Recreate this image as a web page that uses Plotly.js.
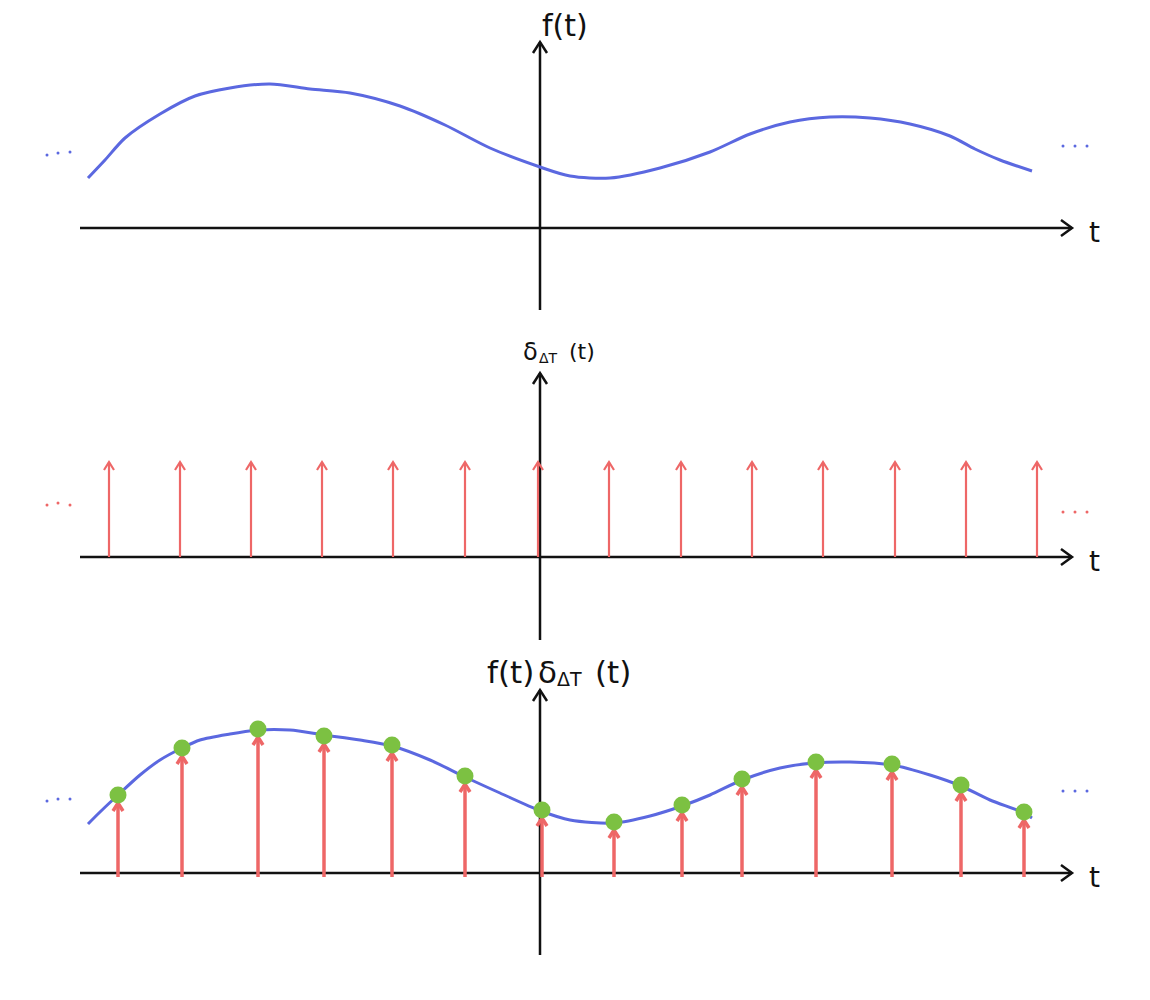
<!DOCTYPE html>
<html><head><meta charset="utf-8">
<script src="https://cdn.plot.ly/plotly-3.0.1.min.js"></script>
<style>body{margin:0;background:#fff}#chart{width:1150px;height:1000px}</style>
</head><body><div id="chart"></div>
<script>
// ---- data (t in sketch units, heights above each panel's t-axis) ----
const fT = [-452,-435,-415,-380,-345,-310,-270,-230,-190,-140,-95,-50,0,30,70,120,170,210,250,290,330,370,410,435,460,492];
const fV = [50,68,90,114,132,140,144,139,135,122,103,80,61,52,50,60,76,94,106,111,110,104,92,79,68,57];

const combT = [-431,-360,-289,-218,-147,-75,-2,69,141,212,283,355,426,497];
const combV = [95,95,95,95,95,95,95,95,95,95,95,95,95,95];

const prodCurveT = [-452,-440,-422,-400,-380,-358,-340,-310,-282,-250,-216,-180,-148,-110,-75,-40,1,30,74,110,142,170,202,240,274,310,352,390,421,450,482,492];
const prodCurveV = [49,61,78,98,113,125,133,139,143,143,138,133,127,113,96,80,62,53,50,57,67,78,93,105,110,111,108,98,87,73,61,55];

const sampleT = [-422,-358,-282,-216,-148,-75,2,74,142,202,276,352,421,484];
const sampleV = [78,125,144,137,128,97,63,51,68,94,111,109,88,61];

const fLabel = "f(t)";
const deltaSym = "δ", deltaSub = "ΔT", argLabel = "(t)";
const axisLabel = "t";

const dotsLeftT = [-493,-482,-470], dotsRightT = [523,535,547];
const dots1L = [73,75,76], dots1R = [82,82,82];
const dots2L = [52,54,52], dots2R = [45,45,45];
const dots3L = [72,74,74], dots3R = [82,82,82];

// axis extents per panel: [tMin, tMax, yMin, yMax]
const axesExt = [[-460,532,-82,186],[-460,532,-83,184],[-460,532,-82,183]];

// ---- styles ----
const BLUE = '#5b68e0', RED = '#ee6767', GREEN = '#7cc142', BLACK = '#111';
const FONT = 'DejaVu Sans';
const yr = ['y','y2','y3'];

function push(arrX, arrY, xs, ys){ xs.forEach(v=>arrX.push(v)); ys.forEach(v=>arrY.push(v)); arrX.push(null); arrY.push(null); }

const traces = [];
axesExt.forEach((e,i)=>{
  const ax = [], ay = [];
  push(ax, ay, [e[0], e[1]], [0, 0]);
  push(ax, ay, [e[1]-11, e[1], e[1]-11], [8, 0, -8]);
  push(ax, ay, [0, 0], [e[2], e[3]]);
  push(ax, ay, [-7, 0, 7], [e[3]-11, e[3], e[3]-11]);
  traces.push({x:ax, y:ay, xaxis:'x', yaxis:yr[i], mode:'lines', line:{color:BLACK, width:2.5}, hoverinfo:'skip'});
});
traces.push({x:fT, y:fV, xaxis:'x', yaxis:'y', mode:'lines', line:{color:BLUE, width:3, shape:'spline', smoothing:0.8}, hoverinfo:'skip'});
traces.push({x:dotsLeftT.concat([null], dotsRightT), y:dots1L.concat([null], dots1R), xaxis:'x', yaxis:'y', mode:'markers', marker:{color:BLUE, size:3}, hoverinfo:'skip'});
const cx = [], cy = [];
combT.forEach((t,i)=>{
  push(cx, cy, [t, t], [0, combV[i]]);
  push(cx, cy, [t-5, t, t+5], [combV[i]-8, combV[i], combV[i]-8]);
});
traces.push({x:cx, y:cy, xaxis:'x', yaxis:'y2', mode:'lines', line:{color:RED, width:2.2}, hoverinfo:'skip'});
traces.push({x:dotsLeftT.concat([null], dotsRightT), y:dots2L.concat([null], dots2R), xaxis:'x', yaxis:'y2', mode:'markers', marker:{color:RED, size:3}, hoverinfo:'skip'});
traces.push({x:prodCurveT, y:prodCurveV, xaxis:'x', yaxis:'y3', mode:'lines', line:{color:BLUE, width:3, shape:'spline', smoothing:0.8}, hoverinfo:'skip'});
traces.push({x:dotsLeftT.concat([null], dotsRightT), y:dots3L.concat([null], dots3R), xaxis:'x', yaxis:'y3', mode:'markers', marker:{color:BLUE, size:3}, hoverinfo:'skip'});
const sx = [], sy = [];
sampleT.forEach((t,i)=>{ push(sx, sy, [t, t], [-4, sampleV[i]]); push(sx, sy, [t-5, t, t+5], [sampleV[i]-16, sampleV[i]-8, sampleV[i]-16]); });
traces.push({x:sx, y:sy, xaxis:'x', yaxis:'y3', mode:'lines', line:{color:RED, width:3.5}, hoverinfo:'skip'});
traces.push({x:sampleT, y:sampleV, xaxis:'x', yaxis:'y3', mode:'markers', marker:{color:GREEN, size:17}, hoverinfo:'skip'});

function txt(x, y, yref, text, size, anchor){
  return {x:x, y:y, xref:'x', yref:yref, text:text, showarrow:false, xanchor:anchor||'center', font:{size:size, color:BLACK, family:FONT}};
}
const ann = [];
axesExt.forEach((e,i)=>{ ann.push(txt(e[1]+22, -4, yr[i], axisLabel, 28)); });
// panel 1
ann.push(txt(25, 203, 'y', fLabel, 30));
// panel 2: δ_ΔT(t)
ann.push(txt(-19, 205, 'y2', deltaSym, 24, 'left'));
ann.push(txt(-3, 199, 'y2', deltaSub, 14, 'left'));
ann.push(txt(27, 205, 'y2', argLabel, 22, 'left'));
// panel 3: f(t) δ_ΔT(t)
ann.push(txt(-55, 201, 'y3', fLabel, 31, 'left'));
ann.push(txt(-4, 201, 'y3', deltaSym, 31, 'left'));
ann.push(txt(15, 194, 'y3', deltaSub, 19, 'left'));
ann.push(txt(53, 201, 'y3', argLabel, 31, 'left'));

const hid = {visible:false, showgrid:false, zeroline:false, fixedrange:true};
const layout = {
  width:1150, height:1000,
  margin:{l:0, r:0, t:0, b:0},
  paper_bgcolor:'#fff', plot_bgcolor:'#fff',
  showlegend:false,
  xaxis:Object.assign({range:[-540,610]}, hid),
  yaxis:Object.assign({domain:[0.67,1], range:[-102,228]}, hid),
  yaxis2:Object.assign({domain:[0.35,0.67], range:[-93,227]}, hid),
  yaxis3:Object.assign({domain:[0,0.35], range:[-127,223]}, hid),
  annotations:ann
};
Plotly.newPlot('chart', traces, layout, {staticPlot:true, displayModeBar:false});
</script></body></html>
